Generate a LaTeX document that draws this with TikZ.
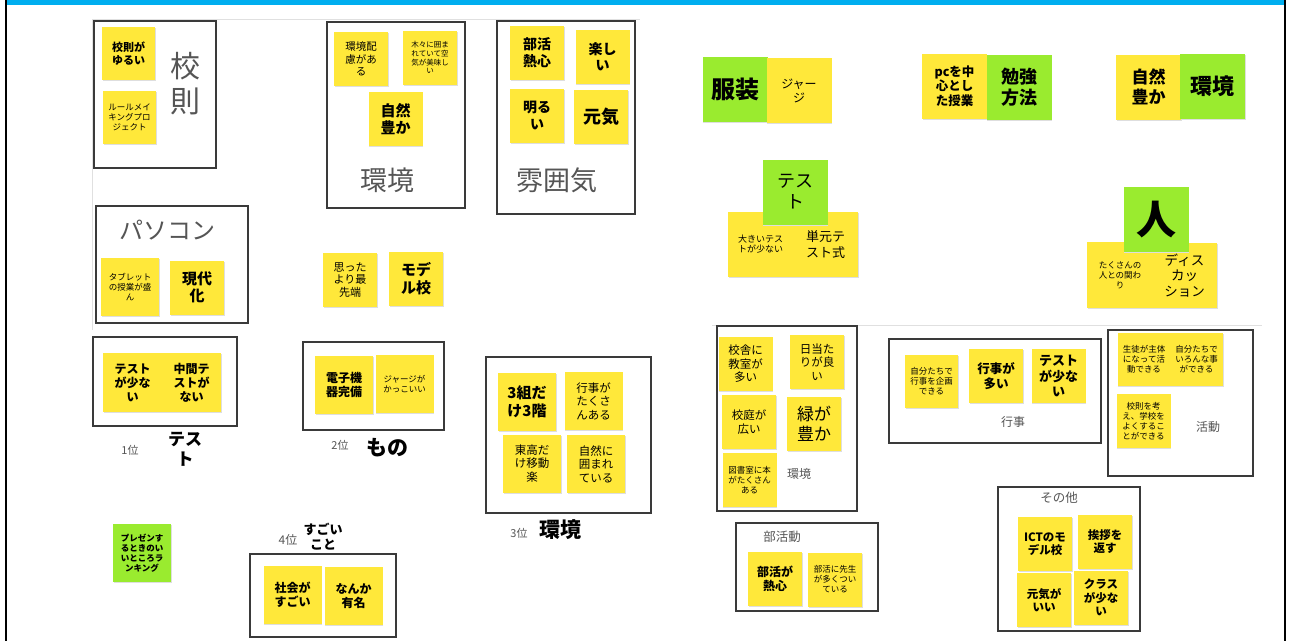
\documentclass[tikz,border=0pt]{standalone}
\usepackage{fontspec}
\newfontfamily\jp{Noto Sans CJK JP}
\definecolor{ny}{HTML}{FFE83A}
\definecolor{ng}{HTML}{9AEB2F}
\definecolor{fr}{HTML}{3A3A3A}
\definecolor{lb}{HTML}{555555}
\definecolor{cy}{HTML}{00AEEF}
\newcommand\fz[1]{\pgfmathsetmacro\fzb{#1*1.17}\fontsize{#1}{\fzb}\selectfont}
\tikzset{
  note/.style={rectangle, inner sep=0pt, align=center, fill=ny, text=black,
    minimum width=#1, minimum height=#1,
    preaction={fill=black!13, transform canvas={shift={(0.6pt,-1.2pt)}}}},
  note/.default=54,
  gnote/.style={note=#1, fill=ng},
  gnote/.default=65,
  frame/.style={draw=fr, line width=1.6pt},
  lbl/.style={inner sep=0pt, align=center, text=lb},
  blbl/.style={inner sep=0pt, align=center, text=black},
  guide/.style={draw=black!12, line width=0.8pt}
}
\begin{document}
\begin{tikzpicture}[x=1pt,y=-1pt]
\useasboundingbox (0,0) rectangle (1292,641);
\fill[white] (0,0) rectangle (1292,641);
% outer frame
\fill[cy] (7,0) rectangle (1285,5);
\fill[black] (5,0) rectangle (7,641);
\fill[black] (1284,0) rectangle (1286,641);
% faint guide lines
\draw[guide] (92,19) -- (640,19);
\draw[guide] (92,19) -- (92,330);
\draw[guide] (712,325) -- (1262,325);

% ---- frames
\draw[frame] (94,21) rectangle (216,168);
\draw[frame] (96,206) rectangle (248,323);
\draw[frame] (327,22) rectangle (465,208);
\draw[frame] (497,21) rectangle (635,214);
\draw[frame] (93,337) rectangle (237,426);
\draw[frame] (303,342) rectangle (444,430);
\draw[frame] (486,357) rectangle (651,513);
\draw[frame] (250,554) rectangle (396,637);
\draw[frame] (717,326) rectangle (857,511);
\draw[frame] (889,339) rectangle (1101,443);
\draw[frame] (1108,330) rectangle (1253,476);
\draw[frame] (736,523) rectangle (878,611);
\draw[frame] (998,487) rectangle (1140,631);

% ---- 校則
\node[note=53, font=\jp\bfseries\fz{11}] (n1) at (128.5,53.5) {校則が\\ゆるい};
\node[note=53, font=\jp\fz{8.5}] (n2) at (129.5,117.5) {ルールメイ\\キングプロ\\ジェクト};
\node[lbl, font=\jp\fz{30}] (l1) at (185,84) {校\\則};
% ---- パソコン
\node[lbl, font=\jp\fz{24}] (l2) at (167,230) {パソコン};
\node[note=58, font=\jp\fz{8.5}] (n3) at (130,287) {タブレット\\の授業が盛\\ん};
\node[note=54, font=\jp\bfseries\fz{15}] (n4) at (197,287.5) {現代\\化};
% ---- 環境
\node[note=54, font=\jp\fz{10.5}] (n5) at (361,59) {環境配\\慮があ\\る};
\node[note=54, font=\jp\fz{7.5}] (n6) at (430,57.5) {木々に囲ま\\れていて空\\気が美味し\\い};
\node[note=54, font=\jp\bfseries\fz{15}] (n7) at (395.5,119) {自然\\豊か};
\node[lbl, font=\jp\fz{27}] (l3) at (387,180) {環境};
% ---- 雰囲気
\node[note=54, font=\jp\bfseries\fz{14}] (n8) at (537,52.5) {部活\\熱心};
\node[note=54, font=\jp\bfseries\fz{14}] (n9) at (602.5,56.5) {楽し\\い};
\node[note=54, font=\jp\bfseries\fz{14}] (n10) at (537,115.5) {明る\\い};
\node[note=54, font=\jp\bfseries\fz{18}] (n11) at (601,117) {元気};
\node[lbl, font=\jp\fz{27}] (l4) at (557,180) {雰囲気};

% ---- top right clusters
\node[gnote=65, font=\jp\bfseries\fz{24}] (n12) at (735,89.5) {服装};
\node[note=65, font=\jp\fz{12}] (n13) at (799,90.5) {ジャー\\ジ};
\node[note=65, font=\jp\bfseries\fz{12.5}] (n14) at (954.5,86) {pcを中\\心とし\\た授業};
\node[gnote=65, font=\jp\bfseries\fz{18}] (n15) at (1019,87) {勉強\\方法};
\node[note=65, font=\jp\bfseries\fz{17}] (n16) at (1148.5,87) {自然\\豊か};
\node[gnote=65, font=\jp\bfseries\fz{22}] (n17) at (1212.5,86.5) {環境};

\node[note=65, font=\jp\fz{9}] (n19) at (760.5,244) {大きいテス\\トが少ない};
\node[note=65, font=\jp\fz{13}] (n20) at (825.5,244.5) {単元テ\\スト式};
\node[gnote=65, font=\jp\fz{18}] (n18) at (795,192) {テス\\ト};

\node[note=66, font=\jp\fz{8.5}] (n22) at (1120,275) {たくさんの\\人との関わ\\り};
\node[note=65, font=\jp\fz{13.5}] (n23) at (1184.5,275.5) {ディス\\カッ\\ション};
\node[gnote=65, font=\jp\bfseries\fz{40}] (n21) at (1156,219.5) {人};

% ---- middle
\node[note=54, font=\jp\fz{11}] (n24) at (350,280) {思った\\より最\\先端};
\node[note=54, font=\jp\bfseries\fz{15}] (n25) at (416,278.5) {モデ\\ル校};

% ---- 1位 テスト
\node[note=59, font=\jp\bfseries\fz{12}] (n26) at (132.5,382.5) {テスト\\が少な\\い};
\node[note=59, font=\jp\bfseries\fz{12}] (n27) at (191.5,382.5) {中間テ\\ストが\\ない};
\node[lbl, font=\jp\fz{11}] (l5) at (130,450) {1位};
\node[blbl, font=\jp\bfseries\fz{17}] (l6) at (185,449) {テス\\ト};
% ---- 2位 もの
\node[note=58, font=\jp\bfseries\fz{12}] (n28) at (344,384.5) {電子機\\器完備};
\node[note=58, font=\jp\fz{8.5}] (n29) at (404.5,384) {ジャージが\\かっこいい};
\node[lbl, font=\jp\fz{11}] (l7) at (340,445) {2位};
\node[blbl, font=\jp\bfseries\fz{21}] (l8) at (387,448) {もの};
% ---- 3位 環境
\node[note=58, font=\jp\bfseries\fz{15}] (n30) at (527,402) {3組だ\\け3階};
\node[note=58, font=\jp\fz{11.5}] (n31) at (593.5,401) {行事が\\たくさ\\んある};
\node[note=58, font=\jp\fz{11.5}] (n32) at (532,463.5) {東高だ\\け移動\\楽};
\node[note=58, font=\jp\fz{11.5}] (n33) at (596,464) {自然に\\囲まれ\\ている};
\node[lbl, font=\jp\fz{11}] (l9) at (519,533) {3位};
\node[blbl, font=\jp\bfseries\fz{21}] (l10) at (560,530) {環境};
% ---- 4位
\node[gnote=58, font=\jp\bfseries\fz{8.5}] (n45) at (142,553) {プレゼンす\\るときのい\\いところラ\\ンキング};
\node[lbl, font=\jp\fz{12}] (l11) at (288,540) {4位};
\node[blbl, font=\jp\bfseries\fz{13}] (l12) at (323,537) {すごい\\こと};
\node[note=58, font=\jp\bfseries\fz{12}] (n46) at (292.5,595) {社会が\\すごい};
\node[note=58, font=\jp\bfseries\fz{12}] (n47) at (353.5,596) {なんか\\有名};

% ---- right 環境
\node[note=54, font=\jp\fz{11.5}] (n34) at (745.5,364) {校舎に\\教室が\\多い};
\node[note=54, font=\jp\fz{11.5}] (n35) at (817,362) {日当た\\りが良\\い};
\node[note=54, font=\jp\fz{11.5}] (n36) at (749,422) {校庭が\\広い};
\node[note=54, font=\jp\fz{17}] (n37) at (814,423.5) {緑が\\豊か};
\node[note=54, font=\jp\fz{8.5}] (n38) at (749.5,480) {図書室に本\\がたくさん\\ある};
\node[lbl, font=\jp\fz{12}] (l13) at (799,474) {環境};
% ---- 行事
\node[note=53, font=\jp\fz{8.5}] (n39) at (931.5,381.5) {自分たちで\\行事を企画\\できる};
\node[note=54, font=\jp\bfseries\fz{12.5}] (n40) at (996,376) {行事が\\多い};
\node[note=54, font=\jp\bfseries\fz{13}] (n41) at (1058.5,376) {テスト\\が少な\\い};
\node[lbl, font=\jp\fz{12}] (l14) at (1013,422) {行事};
% ---- 活動
\node[note=53, font=\jp\fz{8.5}] (n42) at (1144,359.5) {生徒が主体\\になって活\\動できる};
\node[note=53, font=\jp\fz{8.5}] (n43) at (1196.5,359.5) {自分たちで\\いろんな事\\ができる};
\node[note=54, font=\jp\fz{8.5}] (n44) at (1143.5,421) {校則を考\\え、学校を\\よくするこ\\とができる};
\node[lbl, font=\jp\fz{12}] (l15) at (1208,427) {活動};
% ---- 部活動
\node[lbl, font=\jp\fz{12.5}] (l16) at (782,537) {部活動};
\node[note=54, font=\jp\bfseries\fz{12}] (n48) at (775,579) {部活が\\熱心};
\node[note=54, font=\jp\fz{8.5}] (n49) at (835,579.5) {部活に先生\\が多くつい\\ている};
% ---- その他
\node[lbl, font=\jp\fz{12.5}] (l17) at (1059,498) {その他};
\node[note=54, font=\jp\bfseries\fz{11.5}] (n50) at (1045,544) {ICTのモ\\デル校};
\node[note=54, font=\jp\bfseries\fz{11.5}] (n51) at (1105,541.5) {挨拶を\\返す};
\node[note=54, font=\jp\bfseries\fz{11.5}] (n52) at (1044,600) {元気が\\いい};
\node[note=54, font=\jp\bfseries\fz{11.5}] (n53) at (1101,597.5) {クラス\\が少な\\い};
\end{tikzpicture}
\end{document}
